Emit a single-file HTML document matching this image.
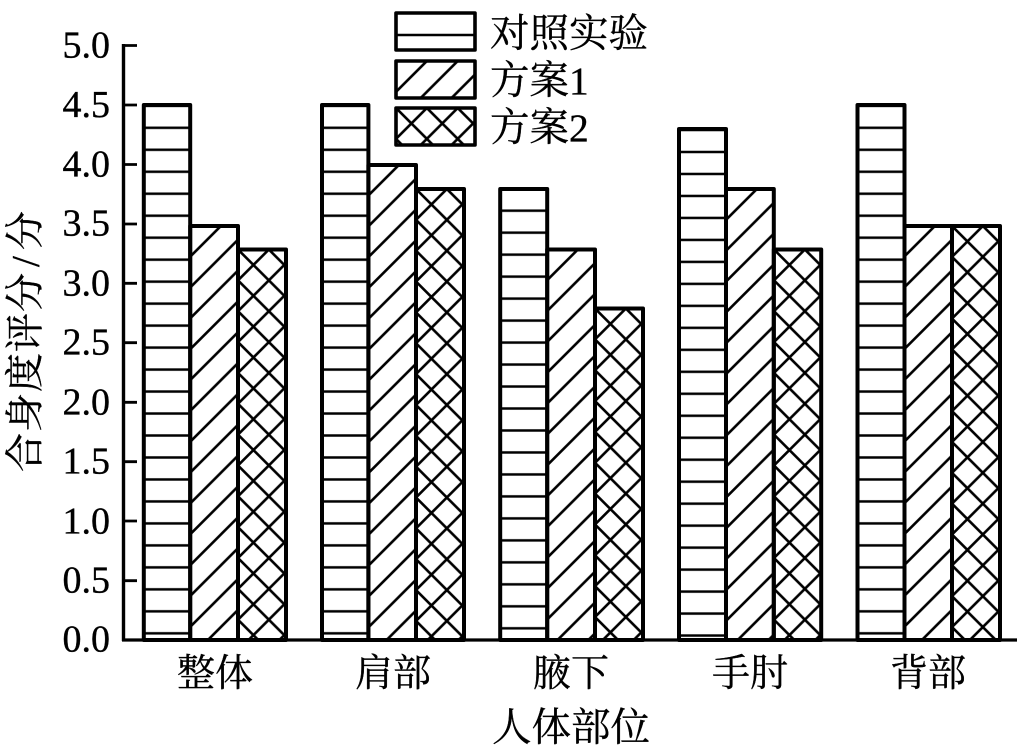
<!DOCTYPE html>
<html><head><meta charset="utf-8"><style>
html,body{margin:0;padding:0;background:#fff}
svg{display:block}
text{fill:#000;stroke:#000;stroke-width:.35;font-family:"Liberation Serif","Noto Serif CJK SC",serif}
</style></head><body>
<svg width="1024" height="756" viewBox="0 0 1024 756" xmlns="http://www.w3.org/2000/svg">
<defs>
<pattern id="hz" width="100" height="21.98" patternUnits="userSpaceOnUse" patternTransform="translate(0,116.8)"><path id="hl" d="M0 11H100" stroke="#000" stroke-width="2.6"/></pattern>
<pattern id="hz3" width="100" height="21.98" patternUnits="userSpaceOnUse" patternTransform="translate(0,199.7)"><path d="M0 11H100" stroke="#000" stroke-width="2.6"/></pattern>
<pattern id="hz4" width="100" height="21.98" patternUnits="userSpaceOnUse" patternTransform="translate(0,141)"><path d="M0 11H100" stroke="#000" stroke-width="2.6"/></pattern>

<pattern id="d1" width="30.85" height="30.85" patternUnits="userSpaceOnUse" patternTransform="translate(190,226)"><path d="M-2 2L2 -2M0 30.85L30.85 0M28.85 32.85L32.85 28.85" stroke="#000" stroke-width="2.6" fill="none"/></pattern>
<pattern id="d2" width="30.85" height="30.85" patternUnits="userSpaceOnUse" patternTransform="translate(368,165)"><path d="M-2 2L2 -2M0 30.85L30.85 0M28.85 32.85L32.85 28.85" stroke="#000" stroke-width="2.6" fill="none"/></pattern>
<pattern id="d3" width="30.85" height="30.85" patternUnits="userSpaceOnUse" patternTransform="translate(547,249.5)"><path d="M-2 2L2 -2M0 30.85L30.85 0M28.85 32.85L32.85 28.85" stroke="#000" stroke-width="2.6" fill="none"/></pattern>
<pattern id="d4" width="30.85" height="30.85" patternUnits="userSpaceOnUse" patternTransform="translate(726,189)"><path d="M-2 2L2 -2M0 30.85L30.85 0M28.85 32.85L32.85 28.85" stroke="#000" stroke-width="2.6" fill="none"/></pattern>
<pattern id="d5" width="30.85" height="30.85" patternUnits="userSpaceOnUse" patternTransform="translate(904,226)"><path d="M-2 2L2 -2M0 30.85L30.85 0M28.85 32.85L32.85 28.85" stroke="#000" stroke-width="2.6" fill="none"/></pattern>
<pattern id="dl" width="30.85" height="30.85" patternUnits="userSpaceOnUse" patternTransform="translate(396,61)"><path d="M-2 2L2 -2M0 30.85L30.85 0M28.85 32.85L32.85 28.85" stroke="#000" stroke-width="2.6" fill="none"/></pattern>

<pattern id="x1" width="30.85" height="30.85" patternUnits="userSpaceOnUse" patternTransform="translate(238,249.5)"><path d="M-2 2L2 -2M0 30.85L30.85 0M28.85 32.85L32.85 28.85M-2 28.85L2 32.85M0 0L30.85 30.85M28.85 -2L32.85 2" stroke="#000" stroke-width="2.6" fill="none"/></pattern>
<pattern id="x2" width="30.85" height="30.85" patternUnits="userSpaceOnUse" patternTransform="translate(416,189)"><path d="M-2 2L2 -2M0 30.85L30.85 0M28.85 32.85L32.85 28.85M-2 28.85L2 32.85M0 0L30.85 30.85M28.85 -2L32.85 2" stroke="#000" stroke-width="2.6" fill="none"/></pattern>
<pattern id="x3" width="30.85" height="30.85" patternUnits="userSpaceOnUse" patternTransform="translate(595,308.5)"><path d="M-2 2L2 -2M0 30.85L30.85 0M28.85 32.85L32.85 28.85M-2 28.85L2 32.85M0 0L30.85 30.85M28.85 -2L32.85 2" stroke="#000" stroke-width="2.6" fill="none"/></pattern>
<pattern id="x4" width="30.85" height="30.85" patternUnits="userSpaceOnUse" patternTransform="translate(774,249.5)"><path d="M-2 2L2 -2M0 30.85L30.85 0M28.85 32.85L32.85 28.85M-2 28.85L2 32.85M0 0L30.85 30.85M28.85 -2L32.85 2" stroke="#000" stroke-width="2.6" fill="none"/></pattern>
<pattern id="x5" width="30.85" height="30.85" patternUnits="userSpaceOnUse" patternTransform="translate(952,226)"><path d="M-2 2L2 -2M0 30.85L30.85 0M28.85 32.85L32.85 28.85M-2 28.85L2 32.85M0 0L30.85 30.85M28.85 -2L32.85 2" stroke="#000" stroke-width="2.6" fill="none"/></pattern>
<pattern id="xl" width="30.85" height="30.85" patternUnits="userSpaceOnUse" patternTransform="translate(396,108)"><path d="M-2 2L2 -2M0 30.85L30.85 0M28.85 32.85L32.85 28.85M-2 28.85L2 32.85M0 0L30.85 30.85M28.85 -2L32.85 2" stroke="#000" stroke-width="2.6" fill="none"/></pattern>
</defs>

<g stroke="#000" stroke-width="4" stroke-linejoin="round">
<rect x="143.8" y="105" width="46.4" height="535" fill="url(#hz)"/>
<rect x="190.2" y="226" width="47.8" height="414" fill="url(#d1)"/>
<rect x="238" y="249.5" width="48" height="390.5" fill="url(#x1)"/>

<rect x="322" y="105" width="46.4" height="535" fill="url(#hz)"/>
<rect x="368.4" y="165" width="47.6" height="475" fill="url(#d2)"/>
<rect x="416" y="189" width="48" height="451" fill="url(#x2)"/>

<rect x="500.2" y="189" width="47" height="451" fill="url(#hz3)"/>
<rect x="547.2" y="249.5" width="47.8" height="390.5" fill="url(#d3)"/>
<rect x="595" y="308.5" width="48" height="331.5" fill="url(#x3)"/>

<rect x="679" y="129" width="47" height="511" fill="url(#hz4)"/>
<rect x="726" y="189" width="47.8" height="451" fill="url(#d4)"/>
<rect x="773.8" y="249.5" width="47.4" height="390.5" fill="url(#x4)"/>

<rect x="857.5" y="105" width="47" height="535" fill="url(#hz)"/>
<rect x="904.5" y="226" width="47.5" height="414" fill="url(#d5)"/>
<rect x="952" y="226" width="48" height="414" fill="url(#x5)"/>
</g>

<g stroke="#000" fill="none">
<path d="M123.5 44V641" stroke-width="3.4"/>
<path d="M122 640H1017" stroke-width="3.2"/>
<path d="M123 45.5H137M123 105H137M123 164.5H137M123 224H137M123 283.3H137M123 342.7H137M123 402.3H137M123 461.7H137M123 521H137M123 580.7H137" stroke-width="2.8"/>
</g>

<g font-size="38" text-anchor="end">
<text x="110" y="57.5">5.0</text>
<text x="110" y="117">4.5</text>
<text x="110" y="176.5">4.0</text>
<text x="110" y="235.5">3.5</text>
<text x="110" y="295.5">3.0</text>
<text x="110" y="354.5">2.5</text>
<text x="110" y="414.5">2.0</text>
<text x="110" y="473.5">1.5</text>
<text x="110" y="533.5">1.0</text>
<text x="110" y="592.5">0.5</text>
<text x="110" y="651.5">0.0</text>
</g>

<g font-size="38" text-anchor="middle">
<text x="215" y="686">整体</text>
<text x="393" y="686">肩部</text>
<text x="571" y="686">腋下</text>
<text x="750" y="686">手肘</text>
<text x="928" y="686">背部</text>
</g>
<text x="571" y="741" font-size="39.5" text-anchor="middle">人体部位</text>
<text transform="translate(38.5,472) rotate(-90)" font-size="39" letter-spacing="1">合身度评分<tspan dx="5">/</tspan><tspan dx="5">分</tspan></text>

<g stroke="#000" stroke-width="3.6" stroke-linejoin="round">
<rect x="396" y="13" width="79" height="37" fill="#fff"/>
<rect x="396" y="61" width="79" height="37" fill="url(#dl)"/>
<rect x="396" y="108" width="79" height="37" fill="url(#xl)"/>
</g>
<path d="M396 35H475" stroke="#000" stroke-width="2.6"/>
<g font-size="39.5">
<text x="490" y="47">对照实验</text>
<text x="490" y="94">方案1</text>
<text x="490" y="141">方案2</text>
</g>
</svg>
</body></html>
